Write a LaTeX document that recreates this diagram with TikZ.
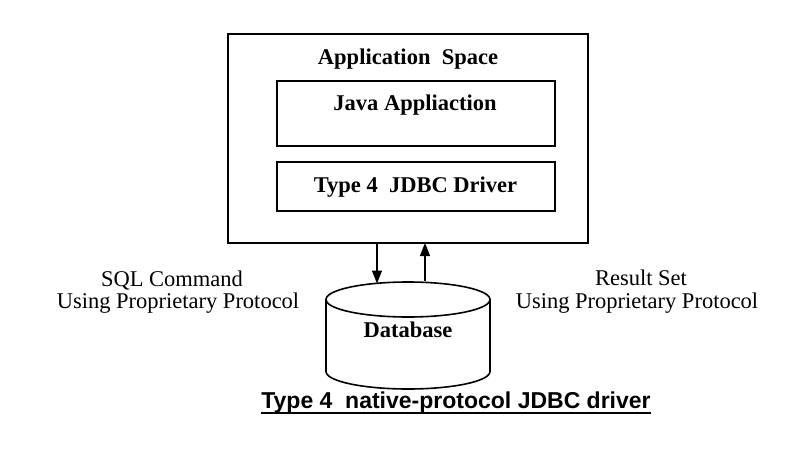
\documentclass[tikz,border=0pt]{standalone}
\usepackage{fontspec}
\setmainfont{Liberation Serif}
\newfontfamily\titlefont{Liberation Sans}
\usetikzlibrary{arrows.meta}
\begin{document}
\begin{tikzpicture}[x=1pt,y=-1pt,
  box/.style={draw=black,line width=1.6pt},
  lbl/.style={inner sep=0pt,anchor=base,font=\fontsize{22.5}{27}\selectfont},
  blbl/.style={lbl,font=\fontsize{22.5}{27}\selectfont\bfseries},
  arr/.style={line width=1.4pt,-{Triangle[length=13pt,width=10pt]}}]
\useasboundingbox (0,0) rectangle (807,456);
% outer application space box
\draw[box,line width=1.8pt] (228,34) rectangle (588,243);
\node[blbl] (app) at (408,64) {Application\ \ Space};
% inner boxes
\draw[box] (277,81) rectangle (555,146);
\node[blbl] (java) at (415,110) {Java Appliaction};
\draw[box] (277,162) rectangle (555,211);
\node[blbl] (drv) at (415.5,192) {Type 4\ \ JDBC Driver};
% database cylinder
\draw[box] (326,299.5) -- (326,371.5) arc[start angle=180,end angle=360,x radius=82,y radius=-17.5] -- (490,299.5);
\draw[box] (408,299.5) ellipse[x radius=82,y radius=17.5];
\node[blbl] (db) at (408,337) {Database};
% arrows
\coordinate (dn1) at (377,243);
\coordinate (dn2) at (377,283.5);
\coordinate (up1) at (425,281);
\coordinate (up2) at (425,243);
\draw[arr] (dn1) -- (dn2);
\draw[arr] (up1) -- (up2);
% side labels
\node[lbl] (sql1) at (172,286) {SQL Command};
\node[lbl] (sql2) at (178,308) {Using Proprietary Protocol};
\node[lbl] (res1) at (641,285) {Result Set};
\node[lbl] (res2) at (637,308) {Using Proprietary Protocol};
% title
\node[inner sep=0pt,anchor=base,font=\titlefont\fontsize{23}{27}\selectfont\bfseries] (title) at (456,408) {Type 4\ \ native-protocol JDBC driver};
\draw[line width=1.8pt] ([yshift=-5pt]title.base west) -- ([yshift=-5pt]title.base east);
\end{tikzpicture}
\end{document}
